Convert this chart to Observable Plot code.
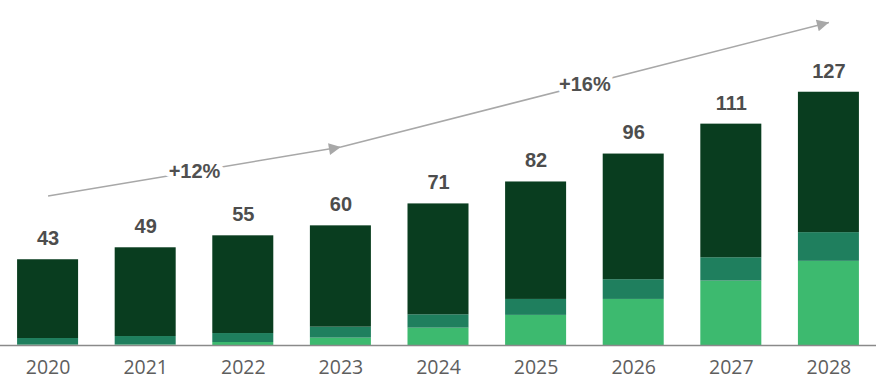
<!DOCTYPE html>
<html><head><meta charset="utf-8">
<script src="https://cdn.jsdelivr.net/npm/d3@7"></script>
<script src="https://cdn.jsdelivr.net/npm/@observablehq/plot@0.6"></script>
<style>body{margin:0;background:#fff}</style>
</head><body><div id="chart"></div>
<script>
// ---- data ----
const years = ["2020","2021","2022","2023","2024","2025","2026","2027","2028"];
const lightSeg = [0.2, 0.3, 1.5, 3.7, 8.7, 15.1, 23.1, 32.3, 42.2];
const midSeg   = [3.3, 4.2, 4.5, 5.5, 6.7, 8.0, 9.9, 11.7, 14.4];
const darkSeg  = [39.5, 44.5, 49.0, 50.8, 55.6, 58.9, 63.0, 67.0, 70.4];
const totals   = [43, 49, 55, 60, 71, 82, 96, 111, 127];
const arrowFromYear  = ["2020", "2023"];
const arrowFromValue = [75, 99.5];
const arrowToYear    = ["2023", "2028"];
const arrowToValue   = [99.5, 162];
const growthLabels   = ["+12%", "+16%"];

// ---- build tables ----
const segNames = ["light", "mid", "dark"];
const segColors = ["#3dba6f", "#1f7f5e", "#093d1f"];
const stacked = [];
years.forEach((yr, i) => {
  [lightSeg, midSeg, darkSeg].forEach((arr, k) => stacked.push({year: yr, seg: segNames[k], value: arr[i]}));
});
const totalData = years.map((yr, i) => ({year: yr, total: totals[i]}));

const W = 876, H = 383;
const padIn = 0.375, padOut = 0.175;
const step = W / (years.length - padIn + 2 * padOut);

const labelData = growthLabels.map((t, j) => {
  const i1 = years.indexOf(arrowFromYear[j]), i2 = years.indexOf(arrowToYear[j]);
  const mid = (i1 + i2) / 2, base = Math.floor(mid);
  return {year: years[base], value: (arrowFromValue[j] + arrowToValue[j]) / 2, text: t, dx: (mid - base) * step};
});

const plot = Plot.plot({
  width: W, height: H,
  marginLeft: 0, marginRight: 0, marginTop: 0, marginBottom: 38,
  style: {fontFamily: "'Open Sans', sans-serif", background: "#fff"},
  x: {domain: years, paddingInner: padIn, paddingOuter: padOut, round: false, label: null, tickSize: 0, tickPadding: 15},
  y: {domain: [0, 173], axis: null},
  color: {domain: segNames, range: segColors},
  marks: [
    Plot.barY(stacked, {x: "year", y: "value", fill: "seg"}),
    Plot.ruleY([0], {stroke: "#8a8a8a", strokeWidth: 1.5}),
    Plot.link(growthLabels, {
      x1: (d, i) => arrowFromYear[i], y1: (d, i) => arrowFromValue[i],
      x2: (d, i) => arrowToYear[i], y2: (d, i) => arrowToValue[i],
      stroke: "#a8a8a8", strokeWidth: 1.5
    }),
    ...labelData.map(d => Plot.text([d], {
      x: "year", y: "value", text: "text", dx: d.dx,
      fill: "#505050", stroke: "white", strokeWidth: 10,
      fontWeight: "bold", fontSize: 20, fontFamily: "'Liberation Sans', Arial, sans-serif"
    })),
    Plot.text(totalData, {
      x: "year", y: "total", text: d => String(d.total), dy: -21,
      fill: "#4d4d4d", fontWeight: "bold", fontSize: 20,
      fontFamily: "'Liberation Sans', Arial, sans-serif"
    })
  ]
});

document.getElementById("chart").appendChild(plot);

// axis tick label styling
const svg = d3.select(plot);
svg.selectAll('g[aria-label="x-axis tick label"], g[aria-label="x-axis"]')
  .attr("font-size", 19.5).attr("fill", "#5e5e5e");
// halo behind growth labels
svg.selectAll('g[aria-label="text"] text').attr("paint-order", "stroke");
// filled arrowheads
const defs = svg.insert("defs", ":first-child");
defs.append("marker").attr("id", "ah")
  .attr("viewBox", "0 -5 10 10").attr("refX", 10).attr("refY", 0)
  .attr("markerWidth", 13).attr("markerHeight", 12).attr("markerUnits", "userSpaceOnUse")
  .attr("orient", "auto")
  .append("path").attr("d", "M0,-5L10,0L0,5Z").attr("fill", "#a8a8a8");
svg.selectAll('g[aria-label="link"] path').attr("marker-end", "url(#ah)");
</script>
</body></html>
